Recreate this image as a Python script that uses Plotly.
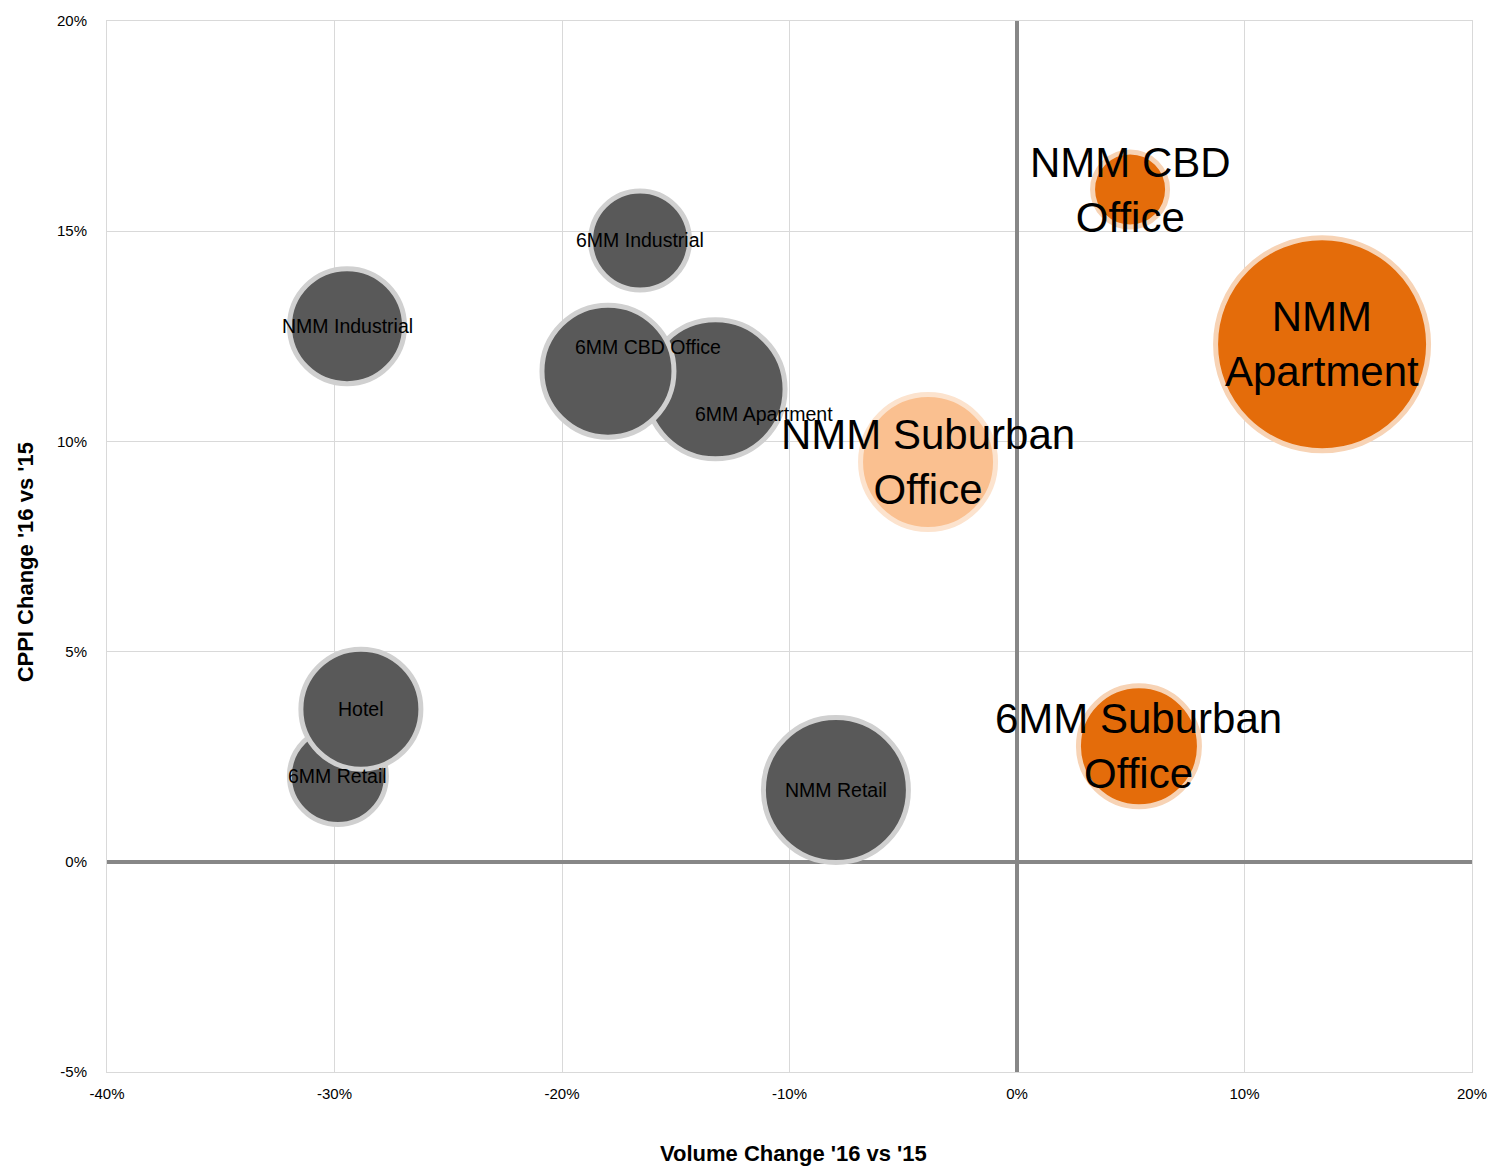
import plotly.graph_objects as go

# Bubble data: volume change (x, %), CPPI change (y, %), bubble size, group
labels = ["NMM Industrial", "6MM Industrial", "6MM Apartment", "6MM CBD Office",
          "NMM Suburban Office", "NMM CBD Office", "NMM Apartment",
          "6MM Retail", "Hotel", "NMM Retail", "6MM Suburban Office"]
volume_change = [-29.45, -16.57, -13.25, -17.98, -3.91, 4.97, 13.41,
                 -29.85, -28.84, -7.96, 5.36]
cppi_change = [12.74, 14.78, 11.24, 11.67, 9.51, 15.99, 12.31,
               2.04, 3.63, 1.71, 2.75]
bubble_size = [115, 99, 139, 132, 135, 75, 213, 97, 120, 145, 121]
group = ["dark", "dark", "dark", "dark", "light", "orange", "orange",
         "dark", "dark", "dark", "orange"]

x_ticks = [-40, -30, -20, -10, 0, 10, 20]
x_tick_text = ["-40%", "-30%", "-20%", "-10%", "0%", "10%", "20%"]
y_ticks = [-5, 0, 5, 10, 15, 20]
y_tick_text = ["-5%", "0%", "5%", "10%", "15%", "20%"]

FILL = {"dark": "#595959", "orange": "#E46C0A", "light": "#FAC090"}
EDGE = {"dark": "#D0D0D0", "orange": "#F7D3B5", "light": "#FCE3CE"}
FONT = "Liberation Sans Narrow, Arial Narrow, Liberation Sans, Arial, sans-serif"

fig = go.Figure()
fig.add_trace(go.Scatter(
    x=volume_change, y=cppi_change, mode="markers",
    marker=dict(size=bubble_size, sizemode="diameter", sizeref=1,
                color=[FILL[g] for g in group],
                line=dict(color=[EDGE[g] for g in group], width=5),
                opacity=1),
    hoverinfo="text", text=labels, showlegend=False,
))

# Data labels: small for the dark group, large for the orange groups
label_shift = {"6MM Apartment": (48, -25), "6MM CBD Office": (40, 24)}
big_text = {"NMM Suburban Office": "NMM Suburban<br>Office",
            "NMM CBD Office": "NMM CBD<br>Office",
            "NMM Apartment": "NMM<br>Apartment",
            "6MM Suburban Office": "6MM Suburban<br>Office"}
for lab, xv, yv, g in zip(labels, volume_change, cppi_change, group):
    dx, dy = label_shift.get(lab, (0, 0))
    if g == "dark":
        txt, size = lab, 19.5
    else:
        txt, size = big_text[lab], 42
    fig.add_annotation(x=xv, y=yv, text=txt, showarrow=False,
                       xshift=dx, yshift=dy,
                       font=dict(family=FONT, size=size, color="#000000"),
                       align="center")

# Axis titles
fig.add_annotation(text="<b>Volume Change '16 vs '15</b>", xref="paper", yref="paper",
                   x=0.503, y=-0.078, yanchor="middle", showarrow=False,
                   font=dict(family=FONT, size=22, color="#000000"))
fig.add_annotation(text="<b>CPPI Change '16 vs '15</b>", xref="paper", yref="paper",
                   x=-0.060, y=0.485, xanchor="center", yanchor="middle",
                   textangle=-90, showarrow=False,
                   font=dict(family=FONT, size=22, color="#000000"))

fig.update_xaxes(range=[-40, 20], tickmode="array", tickvals=x_ticks,
                 ticktext=x_tick_text,
                 showgrid=True, gridcolor="#D9D9D9", gridwidth=1,
                 zeroline=True, zerolinecolor="#878787", zerolinewidth=4,
                 showline=True, linecolor="#D9D9D9", linewidth=1, mirror=True,
                 ticks="", ticklabelstandoff=8,
                 tickfont=dict(family=FONT, size=15, color="#000000"))
fig.update_yaxes(range=[-5, 20], tickmode="array", tickvals=y_ticks,
                 ticktext=y_tick_text,
                 showgrid=True, gridcolor="#D9D9D9", gridwidth=1,
                 zeroline=True, zerolinecolor="#878787", zerolinewidth=4,
                 showline=True, linecolor="#D9D9D9", linewidth=1, mirror=True,
                 ticks="", ticklabelstandoff=16,
                 tickfont=dict(family=FONT, size=15, color="#000000"))

fig.update_layout(
    width=1499, height=1174,
    margin=dict(l=107, r=27, t=18, b=102),
    paper_bgcolor="white", plot_bgcolor="white",
    showlegend=False,
)

fig.write_html("out.html")
